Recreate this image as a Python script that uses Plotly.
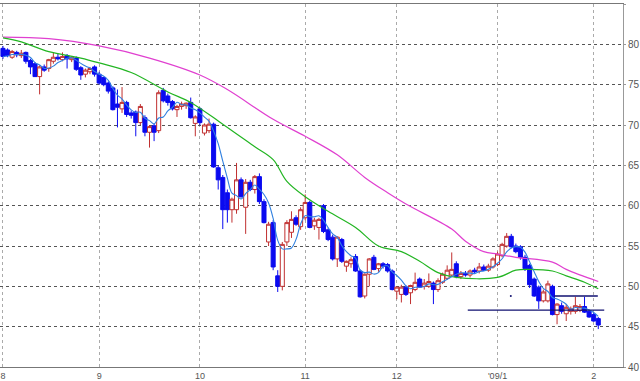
import plotly.graph_objects as go
import pandas as pd

# ---- candle data (index = trading day, 0 = start of Aug 2008) ----
opens = [79.5, 79.3, 78.4, 79.0, 78.6, 79.0, 78.0, 77.6, 76.0, 77.2,
         77.0, 77.9, 78.4, 78.1, 78.6, 78.1, 78.3, 77.1, 76.3, 76.6,
         77.2, 76.3, 75.9, 75.2, 74.6, 72.6, 72.0, 72.8, 71.5, 71.6,
         70.3, 70.9, 69.1, 69.9, 69.3, 74.3, 73.6, 72.9, 71.9, 72.3,
         72.4, 72.8, 70.2, 72.0, 69.0, 69.3, 70.1, 64.7, 63.5, 61.6,
         59.5, 59.5, 63.2, 59.8, 62.9, 62.0, 63.6, 60.5, 55.5, 57.9,
         51.3, 50.0, 55.5, 56.7, 58.5, 57.4, 58.5, 60.4, 57.5, 57.3,
         60.0, 57.0, 56.1, 53.4, 55.8, 52.5, 52.8, 53.7, 51.9, 48.8,
         51.5, 53.6, 52.2, 52.8, 52.7, 51.9, 49.4, 49.0, 49.9, 49.2,
         49.6, 50.9, 50.0, 50.0, 50.4, 49.6, 50.5, 51.0, 51.4, 52.8,
         51.2, 51.6, 51.4, 52.0, 51.9, 52.4, 52.0, 52.4, 52.7, 53.8,
         55.0, 56.2, 55.0, 54.9, 53.6, 52.6, 50.9, 49.9, 48.2, 48.2,
         50.0, 46.5, 47.6, 46.6, 46.9, 46.9, 47.0, 47.5, 46.9, 46.5,
         46.0]
highs = [79.8, 79.5, 79.3, 79.2, 79.3, 79.1, 78.2, 77.8, 77.4, 77.5,
         78.2, 79.0, 78.8, 79.0, 78.8, 78.5, 78.5, 77.3, 77.0, 77.2,
         77.4, 76.6, 76.0, 75.4, 74.8, 74.4, 74.7, 73.0, 71.8, 71.8,
         72.6, 71.2, 70.0, 70.2, 74.3, 74.6, 73.9, 73.1, 72.5, 72.9,
         72.8, 73.4, 71.2, 72.2, 70.2, 70.8, 70.3, 65.0, 63.8, 62.0,
         61.0, 65.3, 63.5, 63.3, 63.2, 63.8, 64.0, 60.8, 58.0, 58.2,
         52.0, 55.5, 58.2, 59.3, 58.8, 59.8, 61.4, 60.6, 58.5, 58.5,
         60.2, 57.2, 56.4, 56.2, 56.0, 53.2, 53.6, 54.0, 52.1, 51.6,
         53.5, 53.9, 52.9, 53.0, 52.9, 52.1, 50.0, 50.2, 50.1, 50.2,
         51.7, 51.1, 50.9, 51.6, 50.6, 51.0, 51.7, 52.6, 54.2, 53.1,
         51.9, 51.9, 52.1, 52.3, 52.9, 52.7, 52.8, 53.6, 54.3, 55.4,
         56.6, 56.5, 55.3, 55.1, 53.9, 52.8, 51.1, 50.1, 49.6, 50.7,
         50.2, 47.9, 48.0, 47.8, 47.5, 48.7, 47.8, 48.7, 47.1, 46.7,
         46.2]
lows = [78.2, 78.4, 78.2, 78.4, 78.3, 77.6, 76.3, 76.6, 73.8, 76.6,
        76.6, 77.6, 78.0, 77.9, 77.0, 77.8, 76.7, 75.6, 75.9, 76.3,
        76.0, 75.0, 74.8, 73.9, 71.8, 69.7, 71.5, 71.0, 70.8, 68.6,
        70.0, 68.6, 67.2, 68.0, 69.0, 72.8, 72.4, 71.8, 71.0, 71.9,
        72.0, 70.8, 68.6, 70.0, 68.7, 69.0, 64.7, 62.0, 57.1, 57.9,
        57.9, 59.0, 61.0, 56.5, 61.8, 61.5, 60.2, 57.8, 55.0, 52.0,
        49.3, 49.5, 55.0, 56.0, 57.5, 57.0, 58.2, 57.2, 57.0, 55.8,
        56.6, 55.6, 53.2, 52.4, 52.9, 51.8, 52.3, 51.8, 48.6, 48.5,
        50.0, 52.0, 51.8, 52.2, 51.7, 49.5, 48.4, 48.0, 48.8, 47.8,
        49.4, 49.8, 49.6, 49.8, 47.8, 49.3, 50.3, 50.8, 51.2, 51.0,
        50.9, 51.2, 51.1, 51.6, 51.6, 51.9, 51.8, 52.2, 52.5, 53.6,
        54.8, 54.7, 54.1, 53.3, 51.9, 49.8, 48.7, 47.2, 48.0, 48.0,
        46.4, 45.3, 46.6, 45.7, 46.5, 46.6, 46.8, 46.7, 46.1, 45.6,
        44.7]
closes = [78.5, 78.6, 79.1, 78.7, 78.9, 77.9, 77.2, 76.0, 77.2, 76.8,
          78.1, 78.4, 78.2, 78.5, 78.2, 78.4, 76.9, 76.2, 76.8, 77.0,
          76.3, 75.2, 75.0, 74.2, 71.9, 72.2, 72.8, 71.3, 71.2, 70.3,
          72.3, 69.1, 69.8, 69.1, 74.0, 73.0, 72.8, 72.0, 72.3, 72.6,
          72.7, 70.9, 71.0, 70.3, 70.0, 70.1, 64.8, 63.2, 59.5, 59.5,
          60.8, 63.2, 61.1, 62.9, 62.0, 63.6, 60.5, 57.9, 57.7, 52.4,
          50.0, 55.2, 57.9, 58.3, 57.7, 59.5, 60.4, 57.3, 58.2, 58.3,
          56.8, 55.8, 53.4, 56.1, 53.1, 53.1, 53.3, 51.9, 48.7, 51.5,
          53.4, 52.1, 52.8, 52.5, 51.9, 49.6, 49.9, 49.9, 49.0, 50.1,
          50.5, 49.9, 50.4, 50.6, 49.6, 50.7, 51.5, 52.0, 52.1, 51.2,
          51.6, 51.4, 51.9, 51.8, 52.4, 52.0, 52.5, 53.4, 54.0, 55.2,
          56.2, 54.9, 54.3, 53.6, 52.2, 50.2, 48.8, 48.2, 49.3, 50.3,
          46.5, 47.8, 46.9, 47.4, 47.2, 47.6, 47.5, 46.8, 46.2, 45.7,
          45.2]

# ---- moving averages (index, value) ----
ma25_idx = [0, 4, 10, 17, 21, 28, 36, 41, 48, 55, 59, 62, 66, 71, 77,
            82, 87, 91, 95, 99, 108, 112, 115, 120, 123, 127, 130]
ma25_val = [80.8, 80.3, 79.1, 78.3, 77.7, 76.5, 74.1, 72.8, 70.1, 67.3,
            65.7, 63.0, 61.1, 59.3, 57.3, 55.0, 54.3, 53.1, 51.7, 51.1,
            51.1, 52.0, 52.1, 51.9, 51.3, 50.5, 49.7]
ma75_idx = [0, 10, 21, 32, 43, 49, 59, 66, 73, 79, 84, 88, 98, 101, 105,
            108, 112, 120, 123, 130]
ma75_val = [80.9, 80.7, 79.8, 78.3, 76.2, 74.4, 70.7, 68.6, 66.3, 63.5,
            61.6, 60.2, 57.1, 55.6, 54.3, 54.0, 53.6, 53.0, 52.1, 50.6]

# ---- support lines drawn on the chart ----
line_levels = [47.05, 48.8]
line_starts = [101.5, 120.4]
line_ends = [131.3, 129.9]
dot_x = [110.9]
dot_y = [48.8]

# ---- axis ticks ----
tick_pos = [0, 21, 43, 66, 86, 108, 129]
tick_text = ['8', '9', '10', '11', '12', "'09/1", '2']
y_ticks = [40, 45, 50, 55, 60, 65, 70, 75, 80, 85]

idx = list(range(len(closes)))
ma5 = pd.Series(closes).rolling(5, min_periods=1).mean().tolist()

fig = go.Figure()
fig.add_trace(go.Scatter(x=ma75_idx, y=ma75_val, mode='lines',
                         line=dict(color='#e040d0', width=1.2, shape='spline'),
                         hoverinfo='skip', showlegend=False))
fig.add_trace(go.Scatter(x=ma25_idx, y=ma25_val, mode='lines',
                         line=dict(color='#22b522', width=1.2, shape='spline'),
                         hoverinfo='skip', showlegend=False))
fig.add_trace(go.Candlestick(
    x=idx, open=opens, high=highs, low=lows, close=closes,
    increasing=dict(line=dict(color='#c03030', width=1), fillcolor='#ffffff'),
    decreasing=dict(line=dict(color='#0a0af0', width=1), fillcolor='#0a0af0'),
    whiskerwidth=0, showlegend=False))
fig.add_trace(go.Scatter(x=idx, y=ma5, mode='lines',
                         line=dict(color='#3080e0', width=1.1, shape='spline'),
                         hoverinfo='skip', showlegend=False))
for lv, s, e in zip(line_levels, line_starts, line_ends):
    fig.add_trace(go.Scatter(x=[s, e], y=[lv, lv], mode='lines',
                             line=dict(color='#101070', width=1.3),
                             hoverinfo='skip', showlegend=False))
fig.add_trace(go.Scatter(x=dot_x, y=dot_y, mode='markers',
                         marker=dict(color='#101070', size=2),
                         hoverinfo='skip', showlegend=False))

fig.update_layout(
    width=640, height=381,
    margin=dict(l=0, r=14, t=4, b=13),
    paper_bgcolor='#ffffff', plot_bgcolor='#ffffff',
    font=dict(family='Liberation Sans, Arial, sans-serif', size=10, color='#555555'),
    showlegend=False,
    boxgap=0.12, boxgroupgap=0,
    xaxis=dict(range=[-0.65, 135.4], tickvals=tick_pos, ticktext=tick_text,
               showgrid=True, gridcolor='#aaaaaa', griddash='dot', gridwidth=1,
               showline=True, linecolor='#777777', linewidth=1, mirror=True,
               ticks='', ticklabelstandoff=0, zeroline=False,
               rangeslider=dict(visible=False),
               tickfont=dict(size=9, color='#555555')),
    yaxis=dict(range=[40, 85], tickvals=y_ticks, side='right',
               showgrid=True, gridcolor='#555555', griddash='dot', gridwidth=1,
               showline=True, linecolor='#999999', linewidth=1,
               ticks='outside', ticklen=2, tickcolor='#999999',
               zeroline=False, tickfont=dict(size=10, color='#555555')),
)

fig.write_html("out.html", config={'displayModeBar': False}, post_script=(
    "document.body.style.margin='0';"
    "document.body.style.overflow='hidden';"))
